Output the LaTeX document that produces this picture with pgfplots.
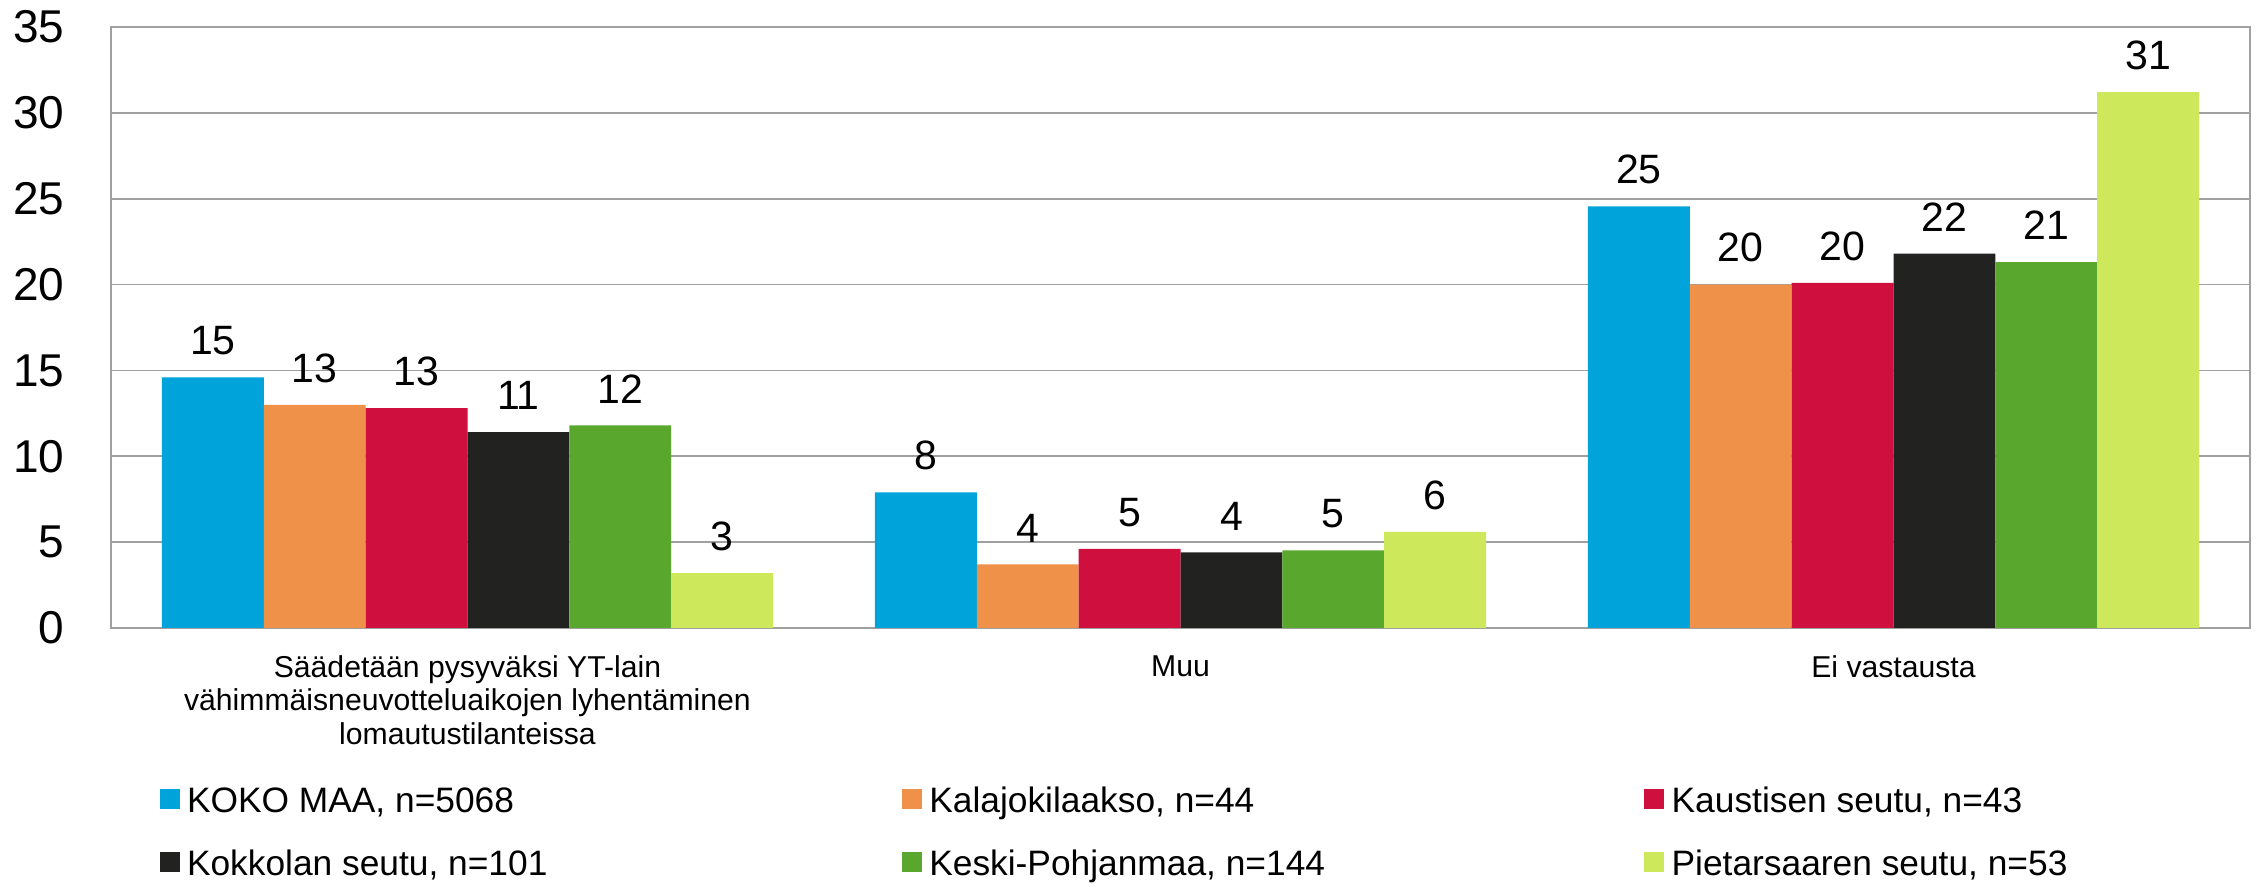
\documentclass[border=0pt]{standalone}
\usepackage{fontspec}
\setmainfont{Liberation Sans}
\usepackage{pgfplots}
\pgfplotsset{compat=1.18}
\definecolor{cBlue}{RGB}{0,163,218}
\definecolor{cOrange}{RGB}{240,145,74}
\definecolor{cRed}{RGB}{207,16,62}
\definecolor{cBlack}{RGB}{34,34,33}
\definecolor{cGreen}{RGB}{89,168,45}
\definecolor{cLight}{RGB}{205,232,91}
\definecolor{cGrid}{RGB}{160,160,160}
\newcommand{\LE}[1]{\makebox[214.5pt][l]{\rule[-2.5pt]{0pt}{11pt}#1}}
\newcommand{\LEs}[1]{\makebox[150pt][l]{\rule[-2.5pt]{0pt}{11pt}#1}}
\pgfplotsset{sqlegend/.style={legend image code/.code={\fill[##1] (0pt,-2.4pt) rectangle (6pt,3.6pt);}}}
\begin{document}
\begin{tikzpicture}
\useasboundingbox (-33.3pt,-78pt) rectangle (643.8pt,188.4pt);
\begin{axis}[
  at={(0pt,0pt)}, anchor=south west,
  width=641.7pt, height=180.3pt, scale only axis,
  ybar=0pt, bar width=0.142857,
  xmin=-0.5, xmax=2.5, ymin=0, ymax=35,
  xtick={0,1,2},
  xticklabels={{Säädetään pysyväksi YT-lain\\vähimmäisneuvotteluaikojen lyhentäminen\\lomautustilanteissa},{Muu},{Ei vastausta}},
  xticklabel style={align=center, font=\fontsize{9.05}{10.1}\selectfont, anchor=north, inner sep=0pt},
  xticklabel shift=8.0pt,
  ytick={0,5,...,35},
  yticklabel style={font=\fontsize{13.8}{16}\selectfont, anchor=east, inner sep=0pt},
  yticklabel shift=13.8pt,
  major tick length=0pt,
  ymajorgrids, grid style={color=cGrid, line width=0.5pt},
  axis line style={color=cGrid, line width=0.6pt},
  /pgf/number format/assume math mode=true,
  nodes near coords={\pgfmathprintnumber[fixed,precision=0]{\pgfplotspointmeta}},
  every node near coord/.append style={font=\fontsize{12.3}{14}\selectfont, anchor=south, inner sep=0pt, yshift=6.5pt, text=black},
  legend columns=3,
  legend cell align=left,
  legend style={at={(axis description cs:0.02244,-0.259)}, anchor=north west, draw=none, fill=none, inner sep=0pt, column sep=0pt, row sep=8.8pt, nodes={inner sep=0pt, font=\fontsize{10.6}{12}\selectfont}, /tikz/every odd column/.style={column sep=2.2pt}},
]
\addplot[fill=cBlue, draw=none, sqlegend] coordinates {(0,14.6) (1,7.9) (2,24.55)};
\addplot[fill=cOrange, draw=none, sqlegend] coordinates {(0,13.0) (1,3.7) (2,20.0)};
\addplot[fill=cRed, draw=none, sqlegend] coordinates {(0,12.8) (1,4.6) (2,20.1)};
\addplot[fill=cBlack, draw=none, sqlegend] coordinates {(0,11.4) (1,4.4) (2,21.8)};
\addplot[fill=cGreen, draw=none, sqlegend] coordinates {(0,11.8) (1,4.52) (2,21.3)};
\addplot[fill=cLight, draw=none, sqlegend] coordinates {(0,3.2) (1,5.6) (2,31.2)};
\legend{\LE{KOKO MAA, n=5068},\LE{Kalajokilaakso, n=44},\LEs{Kaustisen seutu, n=43},\LE{Kokkolan seutu, n=101},\LE{Keski-Pohjanmaa, n=144},\LEs{Pietarsaaren seutu, n=53}}
\end{axis}
\end{tikzpicture}
\end{document}
